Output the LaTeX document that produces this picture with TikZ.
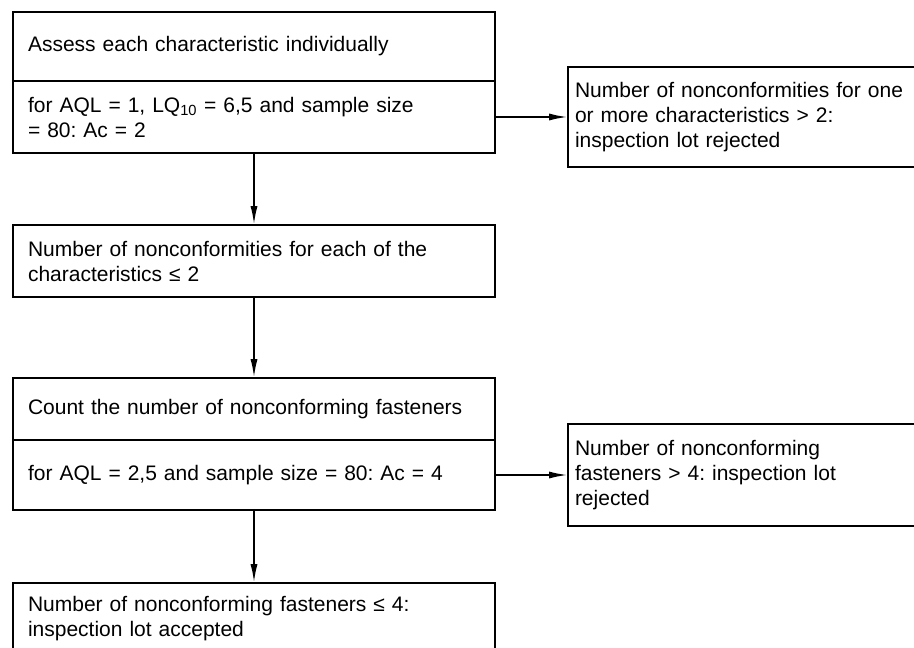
\documentclass[tikz,border=0pt]{standalone}
\usepackage{fontspec}
\setmainfont{Liberation Sans}
\usetikzlibrary{arrows.meta}
\frenchspacing
\begin{document}
\begin{tikzpicture}[x=1pt,y=-1pt,
  box/.style={draw=black, line width=1.6pt, rectangle, inner ysep=0pt, inner xsep=15pt,
    minimum width=482pt, text width=452pt, align=left,
    font=\frenchspacing\fontsize{21}{25}\selectfont},
  rbox/.style={box, inner xsep=7pt, minimum width=352pt, text width=338pt},
  conn/.style={line width=1.6pt, -{Latex[length=18pt,width=7pt]}}]
\useasboundingbox (0,0) rectangle (914,648);
\clip (0,0) rectangle (914,648);
\node[box, minimum height=69pt] (b1a) at (254,46.5) {Assess each characteristic individually};
\node[box, minimum height=72pt] (b1b) at (254,117) {for AQL = 1, LQ\textsubscript{10} = 6,5 and sample size\\= 80: Ac = 2};
\node[rbox, minimum height=100pt] (r1) at (744,117) {Number of nonconformities for one\\or more characteristics > 2:\\inspection lot rejected};
\node[box, minimum height=72pt] (b2) at (254,261) {Number of nonconformities for each of the\\characteristics ≤ 2};
\node[box, minimum height=62pt] (b3a) at (254,409) {Count the number of nonconforming fasteners};
\node[box, minimum height=70pt] (b3b) at (254,475) {for AQL = 2,5 and sample size = 80: Ac = 4};
\node[rbox, minimum height=102pt] (r2) at (744,475) {Number of nonconforming\\fasteners > 4: inspection lot\\rejected};
\node[box, minimum height=72pt] (b4) at (254,619) {Number of nonconforming fasteners ≤ 4:\\inspection lot accepted};
\draw[conn] (b1b.east) -- (r1.west);
\draw[conn] (b1b.south) -- (b2.north);
\draw[conn] (b2.south) -- (b3a.north);
\draw[conn] (b3b.east) -- (r2.west);
\draw[conn] (b3b.south) -- (b4.north);
\end{tikzpicture}
\end{document}
